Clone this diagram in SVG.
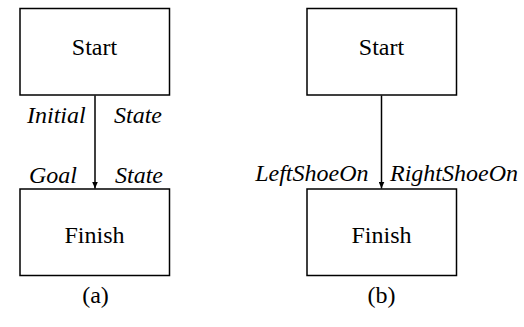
<svg xmlns="http://www.w3.org/2000/svg" width="524" height="327" viewBox="0 0 524 327">
<style>
.box{fill:#fff;stroke:#000;stroke-width:1.5}
.t{font-family:'Liberation Serif','DejaVu Serif',serif;font-size:24px;fill:#000;text-anchor:middle}
.i{font-family:'Liberation Serif','DejaVu Serif',serif;font-size:24px;font-style:italic;fill:#000}
.e{stroke:#000;stroke-width:1.5;fill:none}
</style>
<defs>
<marker id="ah" viewBox="0 0 7 6" refX="7" refY="3" markerWidth="7" markerHeight="6" markerUnits="userSpaceOnUse" orient="auto">
<path d="M0,0 L7,3 L0,6 Z" fill="#000"/>
</marker>
</defs>
<rect width="524" height="327" fill="#fff"/>
<g id="a-start"><rect class="box" x="20" y="8.5" width="149.5" height="86.5"/><text class="t" x="94.5" y="55">Start</text></g>
<g id="a-finish"><rect class="box" x="20" y="189" width="149.5" height="86.5"/><text class="t" x="94.5" y="243">Finish</text></g>
<g id="a-labels">
<text class="i" x="27" y="123">Initial</text>
<text class="i" x="114" y="123">State</text>
<text class="i" x="29" y="183">Goal</text>
<text class="i" x="115" y="183">State</text>
</g>
<text class="t" x="95.5" y="303">(a)</text>
<g id="b-start"><rect class="box" x="307" y="8.5" width="149.5" height="86.5"/><text class="t" x="381.5" y="55">Start</text></g>
<g id="b-finish"><rect class="box" x="307" y="189" width="149.5" height="86.5"/><text class="t" x="381.5" y="243">Finish</text></g>
<g id="b-labels">
<text class="i" x="368.5" y="181" text-anchor="end">LeftShoeOn</text>
<text class="i" x="390" y="181">RightShoeOn</text>
</g>
<text class="t" x="381.5" y="303">(b)</text>
<g id="connectors">
<line class="e" x1="95" y1="95.5" x2="95" y2="188.5" marker-end="url(#ah)"/>
<line class="e" x1="381.5" y1="95.5" x2="381.5" y2="188.5" marker-end="url(#ah)"/>
</g>
</svg>
